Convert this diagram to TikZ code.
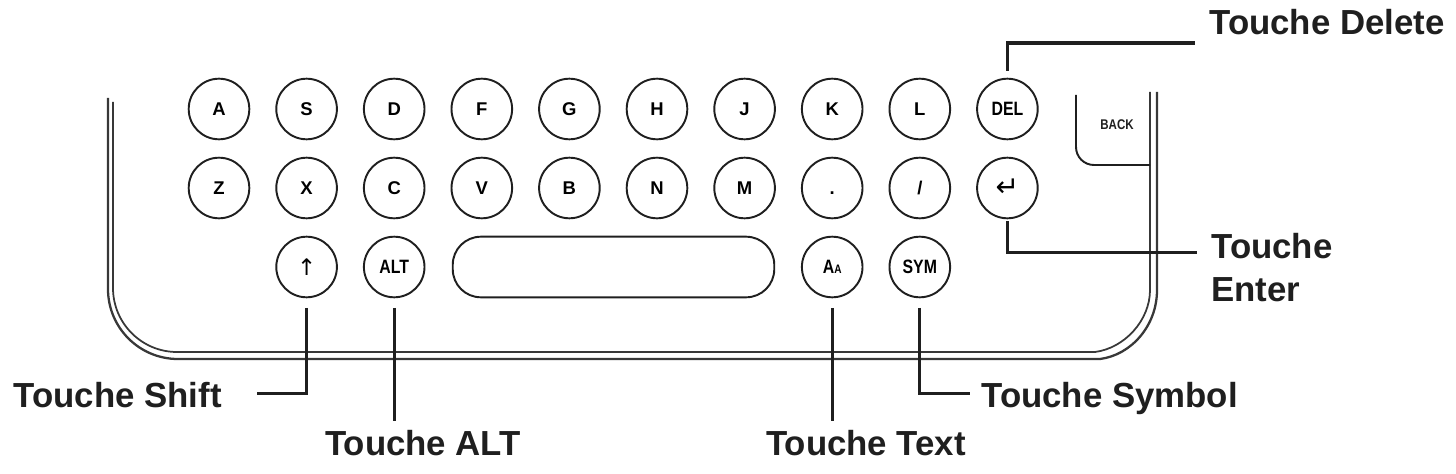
\documentclass[tikz,border=0pt]{standalone}
\usepackage{fontspec}
\setmainfont{Liberation Sans}
\newfontfamily\condfont[FakeStretch=0.82]{Liberation Sans}
\newfontfamily\symfont{DejaVu Sans}
\usetikzlibrary{positioning}
\colorlet{ink}{black!88}
\tikzset{
  key/.style={circle,draw=ink,line width=1.1pt,minimum size=34.5pt,inner sep=0pt,
    font=\fontsize{10.5}{10.5}\selectfont\bfseries},
  widekey/.style={key,font=\condfont\fontsize{11}{11}\selectfont\bfseries},
  callout/.style={inner sep=0pt,text=ink,font=\fontsize{19.8}{24.4}\selectfont\bfseries},
  leader/.style={draw=ink,line width=1.9pt,line join=miter},
  frame/.style={draw=black!78,line width=1.3pt},
}

\begin{document}
\begin{tikzpicture}[x=0.02cm,y=-0.02cm]
  \useasboundingbox (0,0) rectangle (1456,473);
  \draw[frame] (108,98) -- (108,289) .. controls (108,327.7) and (139.3,359) .. (178,359)
    -- (1100,359) .. controls (1131,355) and (1157,326) .. (1157,290) -- (1157,92);
  \draw[frame,line width=1pt] (113,102) -- (113,288) .. controls (113,323.3) and (141.7,352) .. (177,352)
    -- (1095,352) .. controls (1125,348) and (1150,320) .. (1150,290) -- (1150,92);
  \draw[ink,line width=1.1pt] (1076,95) -- (1076,147) .. controls (1076,157) and (1084,165) .. (1094,165) -- (1150,165);
  \node[font=\condfont\fontsize{8}{8}\selectfont\bfseries,text=ink] (kback) at (1117,125) {BACK};
  \foreach \lab [count=\i] in {A,S,D,F,G,H,J,K,L}
    \node[key] (a\i) at ({219+87.6*(\i-1)},109) {\lab};
  \foreach \lab [count=\i] in {Z,X,C,V,B,N,M,{\vphantom{A}.},/}
    \node[key] (b\i) at ({219+87.6*(\i-1)},188) {\lab};
  \node[widekey] (kdel) at (1007.4,109) {DEL};
  \node[key,font=\symfont\fontsize{16}{16}\selectfont] (kent) at (1007.4,188) {↵};
  \node[key,font=\symfont\fontsize{13}{13}\selectfont] (kshift) at (306.6,267) {↑};
  \node[widekey] (kalt) at (394.2,267) {ALT};
  \node[draw=ink,line width=1.1pt,rounded corners=16pt,minimum width=183pt,minimum height=34.5pt] (space) at (613.5,267) {};
  \node[widekey] (ktext) at (832.2,267) {A{\fontsize{7}{7}\selectfont A}};
  \node[widekey] (ksym) at (919.8,267) {SYM};
  \node[callout,anchor=base west] (ldel) at (1209,35) {Touche Delete};
  \node[callout,anchor=north west,align=left] (lent) at (1211,233) {Touche\\Enter};
  \node[callout,anchor=base east] (lshift) at (222,407) {Touche Shift};
  \node[callout,anchor=base west] (lsym) at (981,407) {Touche Symbol};
  \node[callout,anchor=north] (lalt) at (423,430) {Touche ALT};
  \node[callout,anchor=north] (ltext) at (866,430) {Touche Text};
  \draw[leader] ([yshift=4pt]kdel.north) |- ([xshift=-8pt,yshift=-4.5pt]ldel.base west);
  \draw[leader] ([yshift=-1pt]kent.south) |- ([xshift=-8pt,yshift=-11pt]lent.north west);
  \draw[leader] ([yshift=-5.5pt]kshift.south) |- ([xshift=20pt,yshift=7.5pt]lshift.base east);
  \draw[leader] ([yshift=-5.5pt]ksym.south) |- ([xshift=-6pt,yshift=7.5pt]lsym.base west);
  \draw[leader,shorten >=5pt] ([yshift=-5.5pt]kalt.south) -- (kalt.south |- lalt.north);
  \draw[leader,shorten >=5pt] ([yshift=-5.5pt]ktext.south) -- (ktext.south |- ltext.north);
\end{tikzpicture}
\end{document}
